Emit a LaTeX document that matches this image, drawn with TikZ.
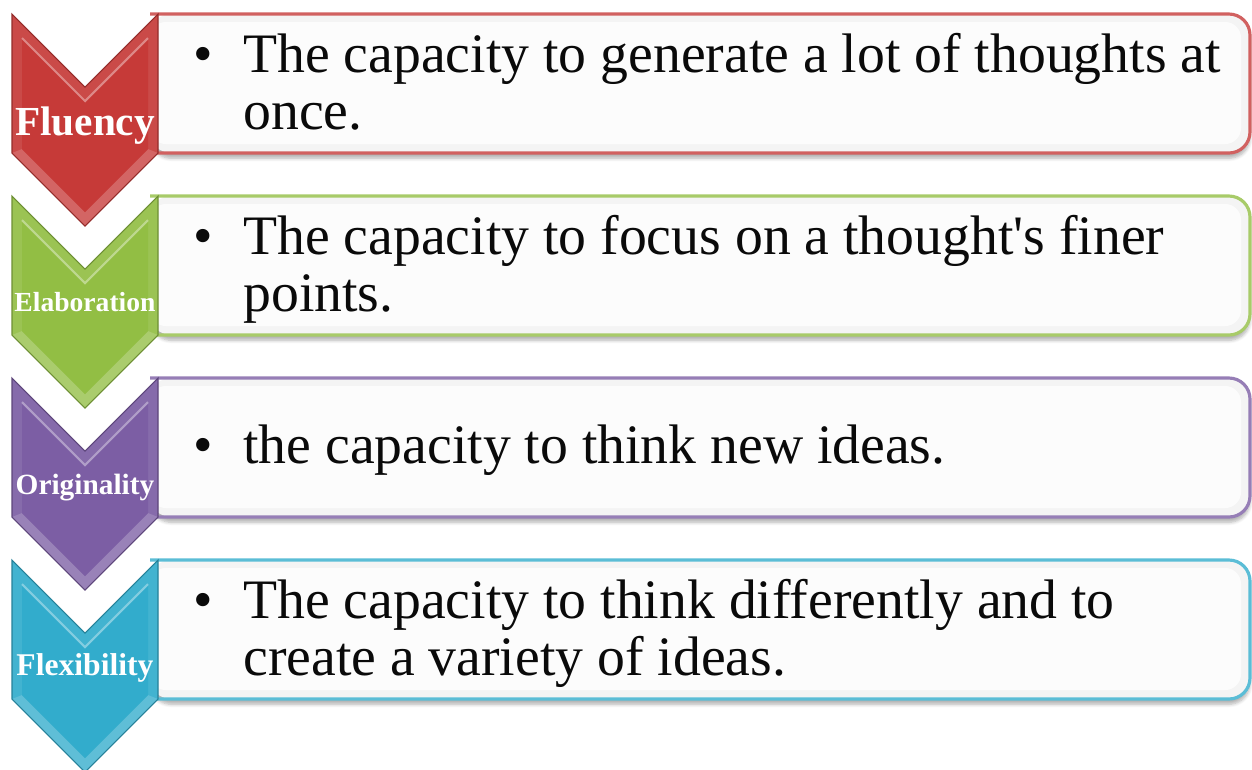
\documentclass[tikz,border=0pt]{standalone}
\usepackage{fontspec}
\setmainfont{Liberation Serif}
\usepackage{xcolor}
\usetikzlibrary{shadows.blur}
\definecolor{chevred}   {RGB}{198, 58, 56}
\definecolor{chevgreen} {RGB}{146,190, 68}
\definecolor{chevpurple}{RGB}{124, 94,164}
\definecolor{chevblue}  {RGB}{ 50,172,204}
\definecolor{bodytext}  {RGB}{ 10, 10, 10}

\tikzset{
  chevlabel/.style={text=white, font=\bfseries, inner sep=0pt, anchor=base},
  itemtext/.style={text=bodytext, inner sep=0pt, anchor=base west,
    font=\fontsize{31.7}{32.5}\selectfont},
}

\begin{document}
\begin{tikzpicture}[x=0.02cm, y=-0.02cm]
  \useasboundingbox (0,0) rectangle (1252,769);
  % one chevron and one text box per step
  \foreach \n/\y/\clr/\lbl/\sz/\bl in {flu/14/chevred/Fluency/23.5/121,
      ela/196/chevgreen/Elaboration/15.7/115,
      ori/378/chevpurple/Originality/16.7/116,
      fle/560/chevblue/Flexibility/18/115}{
    % box behind the chevron
    \fill[gray!9, blur shadow={shadow xshift=0pt, shadow yshift=-3pt,
        shadow opacity=30, shadow blur steps=6}, rounded corners=12]
      (150,\y) -- (1250,\y) -- (1250,\y+139) -- (150,\y+139) -- cycle;
    \fill[gray!2, rounded corners=9] (150,\y+8) rectangle (1241,\y+130);
    \draw[\clr!80!white, line width=1.8, rounded corners=12]
      (150,\y) -- (1250,\y) -- (1250,\y+139) -- (150,\y+139);
    % chevron with a bevelled rim
    \fill[\clr!92!white] (12,\y) -- (85,\y+73) -- (158,\y) -- (158,\y+139)
      -- (85,\y+212) -- (12,\y+139) -- cycle;
    \fill[\clr!78!white] (12,\y+139) -- (22,\y+135) -- (85,\y+198)
      -- (148,\y+135) -- (158,\y+139) -- (85,\y+212) -- cycle;
    \fill[\clr] (22,\y+24) -- (85,\y+87) -- (148,\y+24) -- (148,\y+135)
      -- (85,\y+198) -- (22,\y+135) -- cycle;
    \draw[\clr!60!white, line width=1.2] (22,\y+24) -- (85,\y+87) -- (148,\y+24);
    \draw[\clr!75!black, line width=0.6] (12,\y) -- (85,\y+73) -- (158,\y)
      -- (158,\y+139) -- (85,\y+212) -- (12,\y+139) -- cycle;
    \node[chevlabel, font=\bfseries\fontsize{\sz}{\sz}\selectfont]
      (\n) at (85,\y+\bl) {\lbl};
  }
  % bullet texts
  \node[itemtext] (flutxt) at (193,72) {\begin{tabular}[t]{@{}p{1cm}@{}l@{}}
    \textbullet & The capacity to generate a lot of thoughts at\\ & once.\end{tabular}};
  \node[itemtext] (elatxt) at (193,254) {\begin{tabular}[t]{@{}p{1cm}@{}l@{}}
    \textbullet & The capacity to focus on a thought\textquotesingle s finer\\ & points.\end{tabular}};
  \node[itemtext] (oritxt) at (193,463) {\begin{tabular}[t]{@{}p{1cm}@{}l@{}}
    \textbullet & the capacity to think new ideas.\end{tabular}};
  \node[itemtext] (fletxt) at (193,618) {\begin{tabular}[t]{@{}p{1cm}@{}l@{}}
    \textbullet & The capacity to think differently and to\\ & create a variety of ideas.\end{tabular}};
\end{tikzpicture}
\end{document}
